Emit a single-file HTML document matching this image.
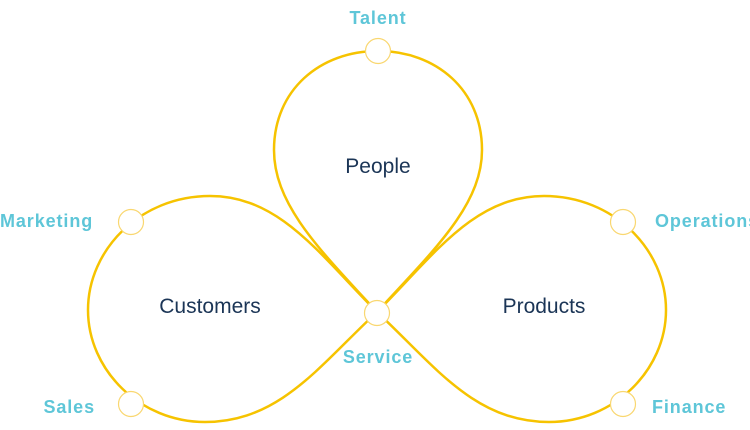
<!DOCTYPE html>
<html><head><meta charset="utf-8"><style>
html,body{margin:0;padding:0;background:#fff;}
svg{display:block;}
.l{font-family:"Liberation Sans",sans-serif;font-weight:bold;font-size:18px;letter-spacing:0.9px;fill:#5ec6d8;}
.m{font-family:"Liberation Sans",sans-serif;font-size:21px;fill:#1b3556;}
</style></head><body>
<svg width="750" height="430" viewBox="0 0 750 430" xmlns="http://www.w3.org/2000/svg">
<g fill="none" stroke="#f6c300" stroke-width="2.5">
<path d="M377,312 C320,250 274,205 274,150 C274,90 320,51 378,51 C436,51 482,90 482,150 C482,205 434,250 377,312 Z"/>
<path d="M377,312 C320,255 280,196 210,196 C140,196 88,250 88,310 C88,370 140,422 205,422 C280,422 320,365 377,312 Z"/>
<path d="M377,312 C434,255 474,196 544,196 C614,196 666,250 666,310 C666,370 614,422 549,422 C474,422 434,365 377,312 Z"/>
</g>
<g fill="#fff" stroke="#f9d770" stroke-width="1.2">
<circle cx="378" cy="51" r="12.5"/>
<circle cx="131" cy="222" r="12.5"/>
<circle cx="131" cy="404" r="12.5"/>
<circle cx="623" cy="222" r="12.5"/>
<circle cx="623" cy="404" r="12.5"/>
<circle cx="377" cy="313" r="12.5"/>
</g>
<text class="l" x="378" y="24" text-anchor="middle">Talent</text>
<text class="l" x="0" y="227">Marketing</text>
<text class="l" x="95" y="413" text-anchor="end">Sales</text>
<text class="l" x="655" y="227">Operations</text>
<text class="l" x="652" y="413">Finance</text>
<text class="l" x="378" y="363" text-anchor="middle">Service</text>
<text class="m" x="378" y="173" text-anchor="middle">People</text>
<text class="m" x="210" y="313" text-anchor="middle">Customers</text>
<text class="m" x="544" y="313" text-anchor="middle">Products</text>
</svg>
</body></html>
